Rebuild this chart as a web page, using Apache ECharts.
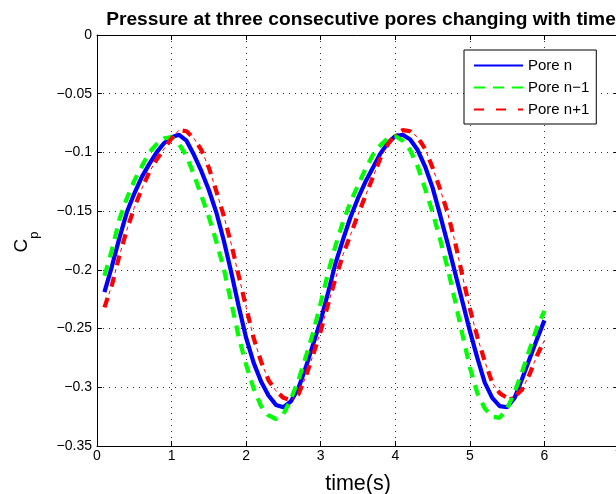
<!DOCTYPE html>
<html>
<head>
<meta charset="utf-8">
<script src="https://cdn.jsdelivr.net/npm/echarts@6/dist/echarts.min.js"></script>
<style>
html,body{margin:0;padding:0;background:#fff;}
#chart{width:616px;height:494px;}
</style>
</head>
<body>
<div id="chart"></div>
<script>
// time samples (s)
const time = [0.1,0.2,0.3,0.4,0.5,0.6,0.7,0.8,0.9,1.0,
              1.1,1.2,1.3,1.4,1.5,1.6,1.7,1.8,1.9,2.0,
              2.1,2.2,2.3,2.4,2.5,2.6,2.7,2.8,2.9,3.0,
              3.1,3.2,3.3,3.4,3.5,3.6,3.7,3.8,3.9,4.0,
              4.1,4.2,4.3,4.4,4.5,4.6,4.7,4.8,4.9,5.0,
              5.1,5.2,5.3,5.4,5.5,5.6,5.7,5.8,5.9,6.0];
// Pore n
const poreN = [-0.219,-0.197,-0.173,-0.151,-0.135,-0.121,-0.110,-0.100,-0.092,-0.087,
               -0.085,-0.090,-0.102,-0.116,-0.132,-0.151,-0.175,-0.202,-0.231,-0.258,
               -0.279,-0.295,-0.307,-0.315,-0.317,-0.312,-0.301,-0.283,-0.263,-0.243,
               -0.219,-0.194,-0.174,-0.155,-0.139,-0.125,-0.113,-0.101,-0.092,-0.086,
               -0.085,-0.089,-0.098,-0.112,-0.130,-0.153,-0.177,-0.202,-0.227,-0.252,
               -0.275,-0.296,-0.309,-0.316,-0.317,-0.309,-0.293,-0.276,-0.259,-0.243];
// Pore n-1
const poreNm1 = [-0.205,-0.183,-0.157,-0.139,-0.124,-0.112,-0.100,-0.093,-0.088,-0.087,
                 -0.093,-0.103,-0.119,-0.137,-0.155,-0.176,-0.199,-0.228,-0.257,-0.281,
                 -0.301,-0.316,-0.324,-0.327,-0.323,-0.310,-0.294,-0.274,-0.253,-0.228,
                 -0.202,-0.179,-0.159,-0.142,-0.128,-0.114,-0.102,-0.094,-0.088,-0.086,
                 -0.090,-0.098,-0.112,-0.131,-0.151,-0.174,-0.198,-0.226,-0.255,-0.283,
                 -0.305,-0.318,-0.325,-0.326,-0.318,-0.304,-0.287,-0.268,-0.249,-0.235];
// Pore n+1
const poreNp1 = [-0.232,-0.213,-0.188,-0.166,-0.147,-0.131,-0.117,-0.106,-0.097,-0.088,
                 -0.081,-0.082,-0.088,-0.098,-0.113,-0.133,-0.154,-0.178,-0.205,-0.232,
                 -0.258,-0.278,-0.294,-0.303,-0.309,-0.311,-0.306,-0.291,-0.272,-0.252,
                 -0.229,-0.207,-0.187,-0.170,-0.153,-0.137,-0.121,-0.105,-0.093,-0.085,
                 -0.081,-0.082,-0.087,-0.097,-0.113,-0.131,-0.151,-0.176,-0.205,-0.233,
                 -0.257,-0.278,-0.296,-0.305,-0.309,-0.308,-0.302,-0.289,-0.273,-0.260];
const seriesNames = ['Pore n', 'Pore n\u22121', 'Pore n+1'];
const titleText = 'Pressure at three consecutive pores changing with time';
const xLabel = 'time(s)';

const pairs = arr => time.map((t, i) => [t, arr[i]]);
const FONT = '"Liberation Sans", Arial, Helvetica, sans-serif';
const fmtY = v => { const r = +v.toFixed(2); return r === 0 ? '0' : String(r).replace('-', '\u2212'); };

const chart = echarts.init(document.getElementById('chart'), null, {renderer: 'canvas'});
const gridLine = {show: true, lineStyle: {color: '#333', width: 1, type: [1, 5]}};
const axLine = {show: true, onZero: false, lineStyle: {color: '#000', width: 1}};
const axTick = {show: true, inside: true, length: 5, lineStyle: {color: '#000'}};

chart.setOption({
  animation: false,
  backgroundColor: '#fff',
  textStyle: {fontFamily: FONT},
  title: {
    text: titleText, left: 356, top: 5, textAlign: 'center',
    textStyle: {fontFamily: FONT, fontSize: 19.2, fontWeight: 'bold', color: '#000'}
  },
  grid: {left: 97, top: 35, width: 522, height: 411, containLabel: false, outerBoundsMode: 'none'},
  legend: {
    data: seriesNames, orient: 'vertical', left: 464, top: 50,
    padding: [8, 7, 7, 9], itemGap: 7, itemWidth: 49, itemHeight: 14,
    borderColor: '#000', borderWidth: 1, backgroundColor: '#fff', borderRadius: 0,
    itemStyle: {opacity: 0},
    textStyle: {fontFamily: FONT, fontSize: 15, color: '#000'}, z: 10
  },
  xAxis: [{
    type: 'value', min: 0, max: 7, interval: 1, position: 'bottom',
    name: xLabel, nameLocation: 'middle', nameGap: 27,
    nameTextStyle: {fontFamily: FONT, fontSize: 21.5, color: '#000'},
    axisLine: axLine, axisTick: axTick, splitLine: gridLine,
    axisLabel: {color: '#000', fontFamily: FONT, fontSize: 14, margin: 3}
  }, {
    type: 'value', min: 0, max: 7, interval: 1, position: 'top',
    axisLine: axLine, axisTick: axTick, splitLine: {show: false}, axisLabel: {show: false}
  }],
  yAxis: [{
    type: 'value', min: -0.35, max: 0, interval: 0.05, position: 'left',
    name: '{c|C}{p|p}', nameLocation: 'middle', nameGap: 56, nameRotate: 90,
    nameTextStyle: {
      color: '#000',
      rich: {
        c: {fontFamily: FONT, fontSize: 19, color: '#000', verticalAlign: 'top'},
        p: {fontFamily: FONT, fontSize: 13, color: '#000', lineHeight: 29, verticalAlign: 'bottom', padding: [0, 3, 0, 0]}
      }
    },
    axisLine: axLine, axisTick: axTick, splitLine: gridLine,
    axisLabel: {color: '#000', fontFamily: FONT, fontSize: 14, margin: 5, formatter: fmtY}
  }, {
    type: 'value', min: -0.35, max: 0, interval: 0.05, position: 'right',
    axisLine: axLine, axisTick: axTick, splitLine: {show: false}, axisLabel: {show: false}
  }],
  series: [{
    name: seriesNames[0], type: 'line', data: pairs(poreN), xAxisIndex: 0, yAxisIndex: 0,
    showSymbol: false, symbol: 'none', color: '#0000ff',
    lineStyle: {color: '#0000ff', width: 4.2, type: 'solid'}, z: 3
  }, {
    name: seriesNames[1], type: 'line', data: pairs(poreNm1), xAxisIndex: 0, yAxisIndex: 0,
    showSymbol: false, symbol: 'none', color: '#00ff00',
    lineStyle: {color: '#00ff00', width: 4.2, type: [11, 8], cap: 'butt'}, z: 4
  }, {
    name: seriesNames[2], type: 'line', data: pairs(poreNp1), xAxisIndex: 0, yAxisIndex: 0,
    showSymbol: false, symbol: 'none', color: '#ff0000',
    lineStyle: {color: '#ff0000', width: 4.2, type: [10, 12], cap: 'butt'}, z: 5
  }, {
    name: seriesNames[2] + ' dots', type: 'line', data: pairs(poreNp1), xAxisIndex: 0, yAxisIndex: 0,
    showSymbol: false, symbol: 'none', color: '#ff0000', silent: true,
    lineStyle: {color: '#ff0000', width: 1, type: [4, 18], dashOffset: 8, cap: 'butt'}, z: 5
  }]
});
</script>
</body>
</html>
